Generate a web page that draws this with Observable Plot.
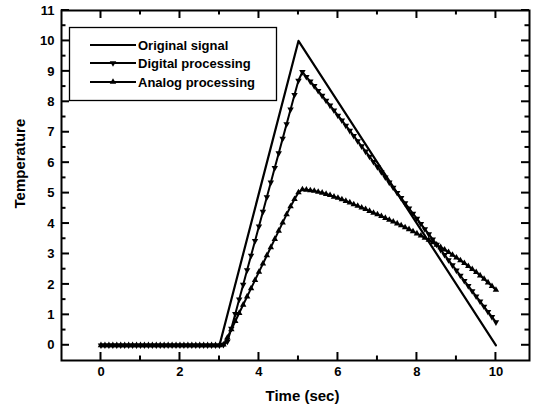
<!DOCTYPE html>
<html><head><meta charset="utf-8">
<script src="https://cdn.jsdelivr.net/npm/d3@7"></script>
<script src="https://cdn.jsdelivr.net/npm/@observablehq/plot@0.6"></script>
<style>body{margin:0;background:#fff}</style>
</head><body><div id="chart"></div>
<script>
const time = [0,0.1,0.2,0.3,0.4,0.5,0.6,0.7,0.8,0.9,1,1.1,1.2,1.3,1.4,1.5,1.6,1.7,1.8,1.9,2,2.1,2.2,2.3,2.4,2.5,2.6,2.7,2.8,2.9,3,
3.1,3.2,3.3,3.4,3.5,3.6,3.7,3.8,3.9,4,4.1,4.2,4.3,4.4,4.5,4.6,4.7,4.8,4.9,5,5.1,
5.2,5.3,5.4,5.5,5.6,5.7,5.8,5.9,6,6.1,6.2,6.3,6.4,6.5,6.6,6.7,6.8,6.9,7,7.1,7.2,7.3,7.4,7.5,7.6,7.7,7.8,7.9,8,
8.1,8.2,8.3,8.4,8.5,8.6,8.7,8.8,8.9,9,9.1,9.2,9.3,9.4,9.5,9.6,9.7,9.8,9.9,10];
const originalTime = [0, 3, 5, 10];
const originalValues = [0, 0, 10, 0];
const digitalValues = [0,0,0,0,0,0,0,0,0,0,0,0,0,0,0,0,0,0,0,0,0,0,0,0,0,0,0,0,0,0,0,
0.02,0.12,0.55,1.03,1.51,1.99,2.47,2.95,3.43,3.91,4.39,4.87,5.35,5.83,6.31,6.79,7.27,7.75,8.23,8.7,8.98,
8.82,8.67,8.52,8.36,8.2,8.04,7.88,7.72,7.55,
7.39,7.22,7.05,6.88,6.71,6.54,6.37,6.2,6.03,5.86,
5.69,5.52,5.35,5.18,5.01,4.84,4.67,4.5,4.33,4.16,
3.99,3.82,3.65,3.48,3.31,3.14,2.97,2.8,2.63,2.46,
2.29,2.12,1.95,1.78,1.61,1.44,1.27,1.1,0.93,0.76];
const analogValues = [0,0,0,0,0,0,0,0,0,0,0,0,0,0,0,0,0,0,0,0,0,0,0,0,0,0,0,0,0,0,0,
0.02,0.25,0.52,0.79,1.06,1.33,1.6,1.87,2.14,2.41,2.68,2.95,3.22,3.49,3.76,4.03,4.3,4.56,4.8,5.02,5.12,
5.11,5.09,5.07,5.04,5.01,4.97,4.93,4.88,4.84,
4.79,4.74,4.69,4.63,4.58,4.52,4.47,4.41,4.35,4.3,
4.24,4.18,4.12,4.06,4.0,3.94,3.87,3.81,3.74,3.67,
3.6,3.53,3.46,3.38,3.3,3.22,3.14,3.06,2.97,2.88,
2.79,2.7,2.6,2.5,2.4,2.29,2.18,2.06,1.94,1.82];
const seriesNames = ["Original signal", "Digital processing", "Analog processing"];
const xTicks = [0, 2, 4, 6, 8, 10];
const xMinor = [1, 3, 5, 7, 9];
const yTicks = [0, 1, 2, 3, 4, 5, 6, 7, 8, 9, 10, 11];
const yMinor = [0.5, 1.5, 2.5, 3.5, 4.5, 5.5, 6.5, 7.5, 8.5, 9.5, 10.5];

const W = 534, H = 412, mL = 61, mR = 5, mT = 10, mB = 52;
const xDom = [-1, 10.85], yDom = [-0.5, 11];
const major = 8, minor = 4.5;

const original = originalTime.map((t, i) => ({t, v: originalValues[i]}));
const digital = time.map((t, i) => ({t, v: digitalValues[i]}));
const analog = time.map((t, i) => ({t, v: analogValues[i]}));

const font = "'Liberation Sans', Arial, sans-serif";

const chart = Plot.plot({
  width: W, height: H,
  marginLeft: mL, marginRight: mR, marginTop: mT, marginBottom: mB,
  style: {fontFamily: font, fontSize: "13px", fontWeight: "bold", color: "#000", background: "#fff"},
  x: {domain: xDom},
  y: {domain: yDom},
  marks: [
    Plot.axisX({ticks: xTicks, tickSize: 0, tickPadding: 6, fontSize: 13, fontWeight: "bold", label: null}),
    Plot.axisY({ticks: yTicks, tickSize: 0, tickPadding: 7, fontSize: 13, fontWeight: "bold", label: null}),
    Plot.text(["Time (sec)"], {frameAnchor: "bottom", dy: 40, dx: 7, fontSize: 15, fontWeight: "bold"}),
    Plot.text(["Temperature"], {frameAnchor: "left", dx: -41, dy: 23, rotate: -90, fontSize: 15, fontWeight: "bold"}),
    Plot.line(original, {x: "t", y: "v", stroke: "#000", strokeWidth: 2.2}),
    Plot.line(digital, {x: "t", y: "v", stroke: "#000", strokeWidth: 2}),
    Plot.dot(digital, {x: "t", y: "v", symbol: "triangle", rotate: 180, r: 2.4, fill: "#000", stroke: "none"}),
    Plot.line(analog, {x: "t", y: "v", stroke: "#000", strokeWidth: 2}),
    Plot.dot(analog, {x: "t", y: "v", symbol: "triangle", r: 2.4, fill: "#000", stroke: "none"}),
    Plot.frame({stroke: "#000", strokeWidth: 2})
  ]
});
document.getElementById("chart").appendChild(chart);

// inward ticks on all four sides, positioned through Plot's own scales
const sx = chart.scale("x"), sy = chart.scale("y");
const svg = d3.select(chart);
const X0 = sx.apply(xDom[0]), X1 = sx.apply(xDom[1]);
const Y0 = sy.apply(yDom[0]), Y1 = sy.apply(yDom[1]);
const tg = svg.append("g");
const seg = (x1, y1, x2, y2) => tg.append("path")
  .attr("d", `M${x1},${y1}L${x2},${y2}`)
  .attr("stroke", "#000").attr("stroke-width", 2).attr("fill", "none");
[[xTicks, major], [xMinor, minor]].forEach(([arr, len]) => arr.forEach(v => {
  const px = sx.apply(v);
  seg(px, Y0, px, Y0 - len);
  seg(px, Y1, px, Y1 + len);
}));
[[yTicks, major], [yMinor, minor]].forEach(([arr, len]) => arr.forEach(v => {
  const py = sy.apply(v);
  seg(X0, py, X0 + len, py);
  seg(X1, py, X1 - len, py);
}));

// legend
const lg = svg.append("g").attr("font-family", font).attr("font-weight", "bold")
  .attr("font-size", 13).attr("text-anchor", "start");
lg.append("rect").attr("x", 69.5).attr("y", 27.5).attr("width", 207).attr("height", 73)
  .attr("fill", "#fff").attr("stroke", "#000").attr("stroke-width", 1.3);
const rowsY = [45, 63, 82];
const tri = d3.symbol(d3.symbolTriangle, 2.4 * 2.4 * Math.PI)();
seriesNames.forEach((name, i) => {
  const y = rowsY[i];
  lg.append("path").attr("d", `M90,${y}H136`)
    .attr("stroke", "#000").attr("stroke-width", 2).attr("fill", "none");
  if (i > 0) {
    lg.append("path").attr("d", tri)
      .attr("transform", `translate(113,${y})` + (i === 1 ? " rotate(180)" : ""))
      .attr("fill", "#000");
  }
  lg.append("text").attr("x", 138).attr("y", y).attr("dy", "0.35em")
    .attr("text-anchor", "start").text(name);
});
</script>
</body></html>
